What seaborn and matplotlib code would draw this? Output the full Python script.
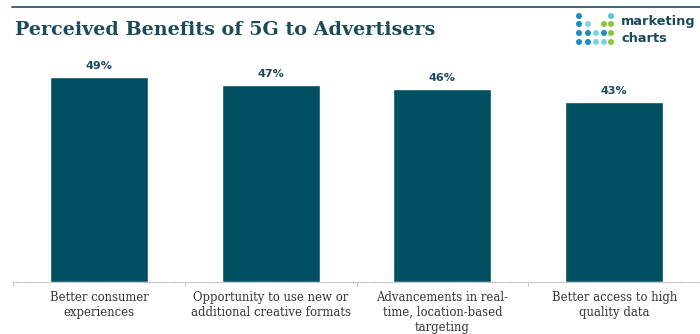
import matplotlib
matplotlib.use("Agg")
import matplotlib.pyplot as plt
import seaborn as sns
import pandas as pd

categories = [
    "Better consumer\nexperiences",
    "Opportunity to use new or\nadditional creative formats",
    "Advancements in real-\ntime, location-based\ntargeting",
    "Better access to high\nquality data",
]
values = [49, 47, 46, 43]
value_labels = ["49%", "47%", "46%", "43%"]
title = "Perceived Benefits of 5G to Advertisers"

BAR = "#004f63"
TEAL = "#1d4b5c"

sns.set_theme(style="white")
plt.rcParams["font.family"] = ["DejaVu Serif", "DejaVu Sans"]

fig = plt.figure(figsize=(7.0, 3.34), dpi=100)
ax = fig.add_axes([13 / 700, 1 - 282 / 334, 687 / 700, 222 / 334])

df = pd.DataFrame({"category": categories, "value": values})
sns.barplot(data=df, x="category", y="value", color=BAR, width=0.57,
            saturation=1, ax=ax)

ax.set_xlim(-0.5, 3.5)
ax.set_ylim(0, 53)
ax.set_xlabel("")
ax.set_ylabel("")
ax.set_yticks([])
for s in ["top", "right", "left"]:
    ax.spines[s].set_visible(False)
ax.spines["bottom"].set_visible(True)
ax.spines["bottom"].set_linestyle((0, (1, 1.5)))
ax.spines["bottom"].set_color("#bbbbbb")
ax.spines["bottom"].set_linewidth(0.8)

ax.set_xticks(range(len(categories)))
ax.set_xticklabels(categories, fontsize=8.4, color="#333333", linespacing=1.18)
ax.tick_params(axis="x", length=0, pad=6.5)

# small separators between categories
for b in [-0.5, 0.5, 1.5, 2.5]:
    ax.plot([b, b], [0, -0.9], color="#cccccc", lw=0.8, clip_on=False)

for i, (v, lab) in enumerate(zip(values, value_labels)):
    ax.text(i, v + 1.4, lab, ha="center", va="bottom", fontsize=8,
            fontweight="bold", color=TEAL, family=["DejaVu Sans"])

# header rule and title
fig.add_artist(plt.Line2D([12 / 700, 1], [1 - 7 / 334, 1 - 7 / 334],
                          color="#2f5d6e", lw=1.3))
fig.text(15 / 700, 1 - 30 / 334, title, fontsize=13.8, fontweight="heavy",
         color=TEAL, va="center", ha="left")

# logo: dot grid plus wordmark
dots = [
    (579, 16, "#1b8fc0"), (579, 24, "#1b8fc0"), (579, 33, "#1b8fc0"), (579, 42, "#1b8fc0"),
    (588, 24, "#7fd3e0"), (588, 33, "#1b8fc0"), (588, 42, "#1b8fc0"),
    (596, 33, "#7fd3e0"), (596, 42, "#7fd3e0"),
    (604, 24, "#8cc63f"), (604, 33, "#1b8fc0"), (604, 42, "#7fd3e0"),
    (611, 16, "#5cc8d6"), (611, 24, "#8cc63f"), (611, 33, "#8cc63f"), (611, 42, "#8cc63f"),
]
for x, y, c in dots:
    fig.add_artist(matplotlib.patches.Ellipse((x / 700, 1 - y / 334),
                                              4.6 / 700, 4.6 / 334,
                                              transform=fig.transFigure,
                                              color=c))
fig.text(621 / 700, 1 - 22 / 334, "marketing", fontsize=9.3, fontweight="bold",
         color=TEAL, va="center", ha="left", family=["DejaVu Sans"])
fig.text(621 / 700, 1 - 39 / 334, "charts", fontsize=9.3, fontweight="bold",
         color=TEAL, va="center", ha="left", family=["DejaVu Sans"])

fig.savefig("out.png", dpi=100)
